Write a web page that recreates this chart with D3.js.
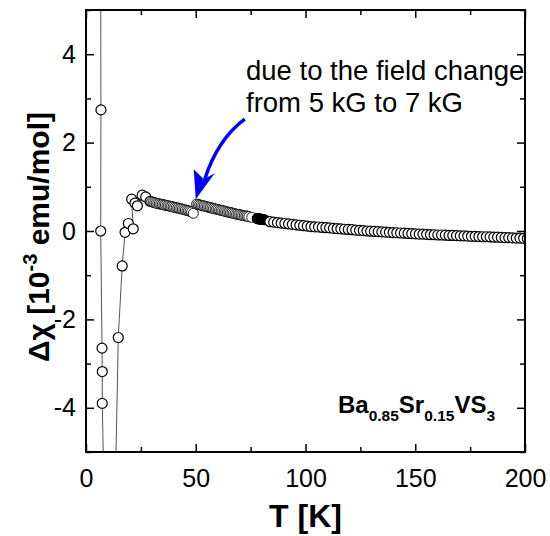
<!DOCTYPE html>
<html><head><meta charset="utf-8">
<script src="https://cdn.jsdelivr.net/npm/d3@7"></script>
<style>body{margin:0;background:#fff}svg{display:block}</style>
</head><body>
<svg id="c" width="550" height="536"></svg>
<script>
// ---- data (T in K, Δχ in 1e-3 emu/mol) ----
const lowT   = [6.5, 6.8, 6.7, 7.3, 7.4, 7.4, 9.5, 12.1, 14.7, 16.5, 17.8, 19.3, 21.5, 20.8, 22.3, 23.4, 25.6, 27.2, 29.2];
const lowChi = [10, 2.74, 0.0, -2.65, -3.18, -3.90, -9, -9, -2.41, -0.79, -0.03, 0.17, 0.05, 0.72, 0.63, 0.57, 0.81, 0.77, 0.67];

const chainAT   = [29.9,30.6,31.3,32.0,32.7,33.4,34.1,34.8,35.5,36.2,36.9,37.6,38.3,39.0,39.7,40.4,41.1,41.8,42.5,43.2,43.9,44.6,45.3,46.0,46.7,47.4,48.1,48.9];
const chainAChi = [0.66,0.65,0.64,0.63,0.62,0.615,0.605,0.60,0.59,0.585,0.575,0.57,0.56,0.555,0.545,0.535,0.525,0.52,0.51,0.505,0.495,0.485,0.475,0.465,0.455,0.445,0.43,0.40];

const chainBT   = [50.4,51.1,51.8,52.5,53.2,53.9,54.6,55.3,56.0,56.7,57.4,58.1,58.8,59.5,60.2,60.9,61.6,62.3,63.0,63.7,64.4,65.1,65.8,66.5,67.2,67.9,68.6,69.3,70.0,70.7,71.4,72.1,72.8,73.5,74.2,75.5];
const chainBChi = [0.61,0.60,0.59,0.58,0.57,0.565,0.555,0.545,0.535,0.53,0.52,0.51,0.50,0.495,0.485,0.475,0.465,0.46,0.45,0.44,0.43,0.425,0.415,0.41,0.40,0.39,0.38,0.375,0.37,0.36,0.35,0.345,0.34,0.335,0.325,0.31];

const denseT   = [78.0,78.4,78.8,79.2,79.6,80.0,80.4,80.8,81.2];
const denseChi = [0.28,0.28,0.275,0.27,0.27,0.265,0.26,0.26,0.255];

const highT   = [83.8,85.5,87.2,88.9,90.6,92.3,94.0,95.7,97.4,99.1,100.8,102.5,104.2,105.9,107.6,109.3,111.0,112.7,114.4,116.1,117.8,119.5,121.2,122.9,124.6,126.3,128.0,129.7,131.4,133.1,134.8,136.5,138.2,139.9,141.6,143.3,145.0,146.7,148.4,150.1,151.8,153.5,155.2,156.9,158.6,160.3,162.0,163.7,165.4,167.1,168.8,170.5,172.2,173.9,175.6,177.3,179.0,180.7,182.4,184.1,185.8,187.5,189.2,190.9,192.6,194.3,196.0,197.7,199.4,201.1];
const highChi = [0.21,0.20,0.19,0.18,0.17,0.16,0.15,0.14,0.13,0.12,0.11,0.10,0.095,0.09,0.08,0.075,0.07,0.06,0.055,0.05,0.04,0.035,0.03,0.02,0.015,0.01,0.0,-0.005,-0.01,-0.015,-0.02,-0.025,-0.03,-0.035,-0.04,-0.045,-0.05,-0.055,-0.06,-0.065,-0.07,-0.07,-0.075,-0.08,-0.085,-0.09,-0.09,-0.095,-0.10,-0.10,-0.105,-0.11,-0.11,-0.115,-0.12,-0.12,-0.125,-0.13,-0.13,-0.135,-0.14,-0.14,-0.145,-0.15,-0.15,-0.155,-0.16,-0.16,-0.165,-0.17];

const xMajor = [0, 50, 100, 150, 200];
const xMinor = [25, 75, 125, 175];
const yMajor = [-4, -2, 0, 2, 4];
const yMinor = [-5, -3, -1, 1, 3, 5];

// ---- layout ----
const svg = d3.select("#c");
const L = 86, R = 525, T = 10, B = 452;
const x = d3.scaleLinear().domain([0, 200]).range([L, R]);
const y = d3.scaleLinear().domain([-5, 5]).range([B, T]);
const FONT = "Arial, 'Liberation Sans', sans-serif";
const fmt = d => String(d);

const zip = (a, b) => a.map((v, i) => [v, b[i]]);
const allPts = [].concat(zip(lowT, lowChi), zip(chainAT, chainAChi), zip(chainBT, chainBChi), zip(denseT, denseChi), zip(highT, highChi));

svg.append("clipPath").attr("id", "clip").append("rect")
  .attr("x", L).attr("y", T).attr("width", R - L).attr("height", B - T);

const plot = svg.append("g").attr("clip-path", "url(#clip)");
const line = d3.line().x(d => x(d[0])).y(d => y(d[1]));
plot.append("path").datum(allPts).attr("d", line)
  .attr("fill", "none").attr("stroke", "#555").attr("stroke-width", 1);

function circles(pts, fill, sw) {
  plot.append("g").selectAll("circle").data(pts).join("circle")
    .attr("cx", d => x(d[0])).attr("cy", d => y(d[1])).attr("r", 5)
    .attr("fill", fill).attr("stroke", "#000").attr("stroke-width", sw);
}
circles(zip(lowT, lowChi), "#fff", 1.2);
circles(zip(chainAT, chainAChi), "#fff", 0.9);
circles(zip(chainBT, chainBChi), "#fff", 0.9);
circles(zip(denseT, denseChi), "#000", 1.2);
circles(zip(highT, highChi), "#fff", 1.2);

// ---- axes ----
function styleAxis(g) {
  g.select(".domain").remove();
  g.selectAll("line").attr("stroke", "#000").attr("stroke-width", 1.5);
  g.selectAll("text").attr("font-family", FONT).attr("font-size", 25).attr("fill", "#000");
}
svg.append("g").attr("transform", `translate(0,${B})`)
  .call(d3.axisBottom(x).tickValues(xMajor).tickSize(-8).tickPadding(17).tickFormat(fmt)).call(styleAxis);
svg.append("g").attr("transform", `translate(0,${B})`)
  .call(d3.axisBottom(x).tickValues(xMinor).tickSize(-5).tickFormat("")).call(styleAxis);
svg.append("g").attr("transform", `translate(0,${T})`)
  .call(d3.axisTop(x).tickValues(xMajor).tickSize(-8).tickFormat("")).call(styleAxis);
svg.append("g").attr("transform", `translate(0,${T})`)
  .call(d3.axisTop(x).tickValues(xMinor).tickSize(-5).tickFormat("")).call(styleAxis);

svg.append("g").attr("transform", `translate(${L},0)`)
  .call(d3.axisLeft(y).tickValues(yMajor).tickSize(-8).tickPadding(10).tickFormat(fmt)).call(styleAxis);
svg.append("g").attr("transform", `translate(${L},0)`)
  .call(d3.axisLeft(y).tickValues(yMinor).tickSize(-5).tickFormat("")).call(styleAxis);
svg.append("g").attr("transform", `translate(${R},0)`)
  .call(d3.axisRight(y).tickValues(yMajor).tickSize(-8).tickFormat("")).call(styleAxis);
svg.append("g").attr("transform", `translate(${R},0)`)
  .call(d3.axisRight(y).tickValues(yMinor).tickSize(-5).tickFormat("")).call(styleAxis);

svg.append("rect").attr("x", L).attr("y", T).attr("width", R - L).attr("height", B - T)
  .attr("fill", "none").attr("stroke", "#000").attr("stroke-width", 2);

// ---- axis titles ----
svg.append("text").attr("x", (L + R) / 2).attr("y", 527).attr("text-anchor", "middle")
  .attr("font-family", FONT).attr("font-size", 32).attr("font-weight", "bold").text("T [K]");

const yl = svg.append("text").attr("transform", `translate(49,237) rotate(-90)`)
  .attr("text-anchor", "middle").attr("font-family", FONT).attr("font-size", 30).attr("font-weight", "bold");
yl.append("tspan").text("Δχ [10");
yl.append("tspan").attr("font-size", 20).attr("dy", -12).text("-3");
yl.append("tspan").attr("dy", 12).text(" emu/mol]");

// ---- formula ----
const f = svg.append("text").attr("x", 338).attr("y", 413)
  .attr("font-family", FONT).attr("font-weight", "bold").attr("font-size", 24);
f.append("tspan").text("Ba");
f.append("tspan").attr("font-size", 15.5).attr("dy", 8).text("0.85");
f.append("tspan").attr("dy", -8).text("Sr");
f.append("tspan").attr("font-size", 15.5).attr("dy", 8).text("0.15");
f.append("tspan").attr("dy", -8).text("VS");
f.append("tspan").attr("font-size", 15.5).attr("dy", 8).text("3");

// ---- annotation ----
const ann = svg.append("text").attr("font-family", FONT).attr("font-size", 27.5).attr("fill", "#000");
ann.append("tspan").attr("x", 246).attr("y", 80).text("due to the field change");
ann.append("tspan").attr("x", 246).attr("y", 112).text("from 5 kG to 7 kG");

// arrow (tip anchored to data position via scales)
const tip = [x(50.0), y(0.72)];
svg.append("path")
  .attr("d", `M${tip[0] + 49},${tip[1] - 80} Q${tip[0] + 22},${tip[1] - 60} ${tip[0] + 9},${tip[1] - 20}`)
  .attr("fill", "none").attr("stroke", "#0000ff").attr("stroke-width", 3.5);
svg.append("path")
  .attr("d", `M${tip[0]},${tip[1]} L${tip[0] - 2},${tip[1] - 30} L${tip[0] + 8},${tip[1] - 20} L${tip[0] + 19},${tip[1] - 26} Z`)
  .attr("fill", "#0000ff");
</script>
</body></html>
